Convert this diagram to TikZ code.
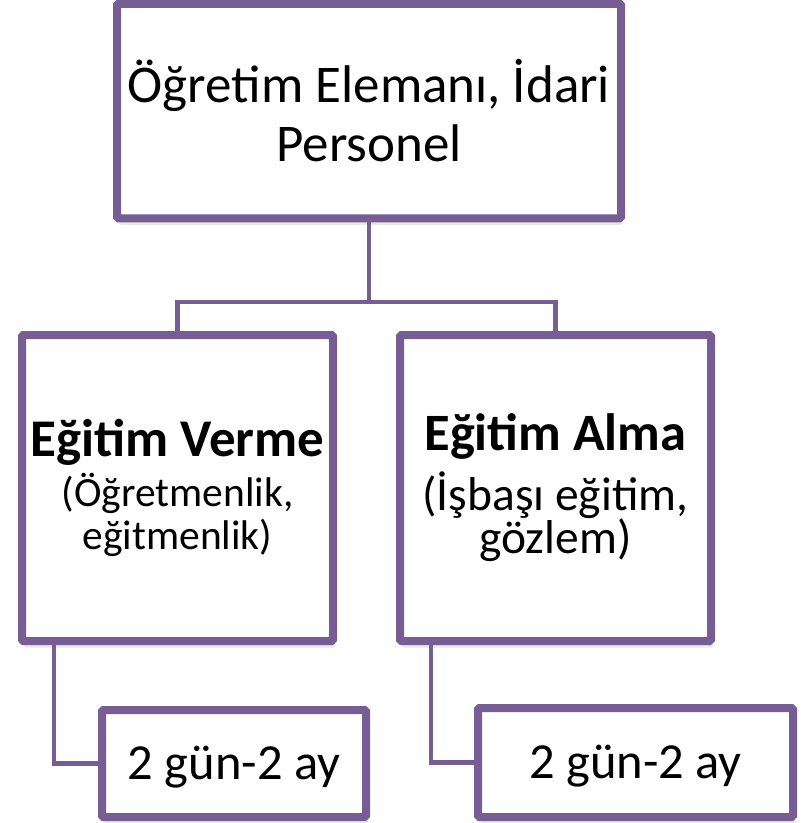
\documentclass[tikz,border=0pt]{standalone}
\usepackage{fontspec}
\setmainfont{Carlito}
\usetikzlibrary{shadows}
\definecolor{orgpurple}{RGB}{118,94,148}
\setlength{\lineskiplimit}{-60pt}
\begin{document}
\begin{tikzpicture}[x=1pt, y=-1pt,
    orgbox/.style={draw=orgpurple, line width=8pt, fill=white,
        rounded corners=1.5pt, align=center, inner sep=0pt,
        drop shadow={opacity=0.18, shadow xshift=2pt, shadow yshift=-6.5pt}},
    orglink/.style={draw=orgpurple, line width=4.5pt}]
    \useasboundingbox (0,0) rectangle (801,823);
    \node[orgbox, minimum width=504pt, minimum height=214.5pt,
        font=\fontsize{53}{59}\selectfont] (staff) at (369,111)
        {Öğretim Elemanı, İdari\\Personel};
    \node[orgbox, minimum width=311pt, minimum height=306pt,
        font=\fontsize{41.5}{43}\selectfont] (give) at (177.5,488)
        {{\bfseries\fontsize{53}{43}\selectfont Eğitim Verme}\\[7pt](Öğretmenlik,\\eğitmenlik)};
    \node[orgbox, minimum width=311pt, minimum height=306pt,
        font=\fontsize{47.5}{43}\selectfont] (take) at (555.5,488)
        {{\bfseries\fontsize{52.5}{43}\selectfont Eğitim Alma}\\[17pt](İşbaşı eğitim,\\gözlem)};
    \node[orgbox, minimum width=264pt, minimum height=107pt, text height=31pt,
        text depth=0pt, font=\fontsize{50.5}{58}\selectfont] (givetime) at (234,763.5)
        {2 gün-2 ay};
    \node[orgbox, minimum width=315pt, minimum height=109pt, text height=31pt,
        text depth=0pt, font=\fontsize{50.5}{58}\selectfont] (taketime) at (635.5,762.5)
        {2 gün-2 ay};
    \coordinate (split) at (369,302);
    \draw[orglink] (staff.south) -- (split);
    \draw[orglink] (give.north) |- (split) -| (take.north);
    \draw[orglink] ([xshift=36pt]give.south west) |- (givetime.west);
    \draw[orglink] ([xshift=35pt]take.south west) |- (taketime.west);
\end{tikzpicture}
\end{document}
